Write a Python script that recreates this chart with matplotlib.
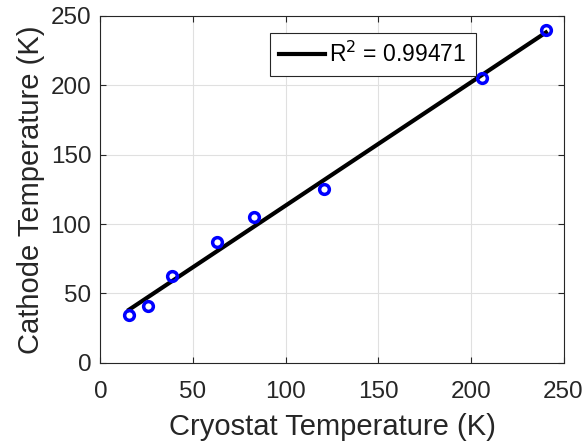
import matplotlib.pyplot as plt
import numpy as np

plt.rcParams['font.family'] = ['Liberation Sans', 'DejaVu Sans']

# Cryostat vs cathode temperature (K)
cryostat = np.array([15.5, 25.6, 38.7, 62.8, 83.0, 120.5, 206.0, 240.5])
cathode = np.array([34.5, 41.0, 62.8, 87.0, 105.0, 125.0, 205.0, 239.7])
r2_label = 'R$^2$ = 0.99471'

# linear fit
slope, intercept = np.polyfit(cryostat, cathode, 1)
fit_x = np.array([cryostat.min(), cryostat.max()])
fit_y = slope * fit_x + intercept

fig = plt.figure(figsize=(5.87, 4.44), dpi=100)
ax = fig.add_axes([0.171, 0.183, 0.789, 0.781])

ax.plot(fit_x, fit_y, color='black', linewidth=3, label=r2_label, zorder=2)
ax.plot(cryostat, cathode, 'o', markerfacecolor='none', markeredgecolor='blue',
        markersize=7, markeredgewidth=2.5, zorder=3)

ax.set_xlim(0, 250)
ax.set_ylim(0, 250)
ax.set_xticks(np.arange(0, 251, 50))
ax.set_yticks(np.arange(0, 251, 50))
ax.grid(True, color='#e0e0e0', linewidth=0.8)
ax.set_axisbelow(True)
ax.tick_params(direction='in', labelsize=17.5, length=4, top=True, right=True,
               color='#262626', labelcolor='#262626')
ax.tick_params(axis='x', pad=13)
ax.tick_params(axis='y', pad=6.5)
for s in ax.spines.values():
    s.set_color('#262626')
    s.set_linewidth(0.8)

ax.set_xlabel('Cryostat Temperature (K)', fontsize=21, color='#262626', labelpad=7)
ax.set_ylabel('Cathode Temperature (K)', fontsize=21, color='#262626', labelpad=4)

leg = ax.legend(loc='upper left', bbox_to_anchor=(0.366, 0.952), fontsize=16.5,
                handlelength=2.0, handletextpad=0.2, borderpad=0.4,
                borderaxespad=0, fancybox=False, framealpha=1)
leg.get_frame().set_edgecolor('#262626')
leg.get_frame().set_linewidth(0.8)

plt.savefig('out.png', dpi=100)
